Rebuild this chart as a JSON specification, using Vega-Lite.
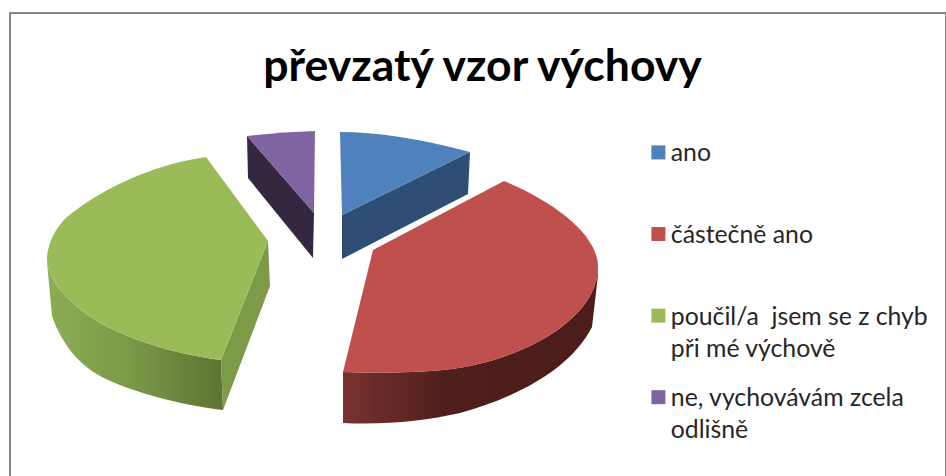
{
  "$schema": "https://vega.github.io/schema/vega-lite/v6.json",
  "width": 936,
  "height": 465,
  "autosize": "none",
  "padding": {"left": 10, "top": 13, "right": 0, "bottom": -2},
  "background": "white",
  "view": {"stroke": "#868686", "strokeWidth": 2, "fill": "white"},
  "title": {
    "text": "převzatý vzor výchovy",
    "font": "Lato",
    "fontSize": 44.5,
    "fontWeight": "bold",
    "color": "#000000",
    "anchor": "middle",
    "frame": "group",
    "orient": "top",
    "offset": -77,
    "dx": 4.5
  },
  "data": {
    "values": [
      {"poradi": "1", "odpoved": "ano", "podil": 12},
      {"poradi": "2", "odpoved": "částečně ano", "podil": 41},
      {"poradi": "3", "odpoved": "poučil/a  jsem se z chyb při mé výchově", "podil": 41},
      {"poradi": "4", "odpoved": "ne, vychovávám zcela odlišně", "podil": 6}
    ]
  },
  "encoding": {
    "x": {"datum": 0, "type": "quantitative", "scale": {"domain": [-465, 471]}, "axis": null},
    "y": {"datum": 0, "type": "quantitative", "scale": {"domain": [-233, 232]}, "axis": null},
    "tooltip": {"field": "podil", "type": "quantitative"}
  },
  "layer": [
    {
      "transform": [{"filter": "datum.poradi === '1'"}],
      "mark": {"type": "point", "filled": true, "opacity": 1, "size": 4, "fill": "#2f4e75", "stroke": null},
      "encoding": {"shape": {"value": "M-5,-93 L-7,-51 L-133,14 L-133,-30 Z"}}
    },
    {
      "transform": [{"filter": "datum.poradi === '4'"}],
      "mark": {"type": "point", "filled": true, "opacity": 1, "size": 4, "fill": "#35273f", "stroke": null},
      "encoding": {"shape": {"value": "M-228,-109 L-227,-67 L-162,13 L-161,-32 Z"}}
    },
    {
      "transform": [{"filter": "datum.poradi === '2'"}],
      "mark": {
        "type": "point", "filled": true, "opacity": 1, "size": 4, "stroke": null,
        "fill": {"gradient": "linear", "x1": 0, "x2": 1, "y1": 0, "y2": 0, "stops": [
          {"offset": 0, "color": "#78322f"},
          {"offset": 0.4, "color": "#4f1f1c"},
          {"offset": 1, "color": "#4a1c1a"}
        ]}
      },
      "encoding": {"shape": {"value": "M-132,127 L-132,178 C-90,180 -50,176 -15,168 C40,153 95,125 117,82 L123,30 L123,22 C123,75 45,117 -32,125 C-65,128 -100,128 -132,127 Z"}}
    },
    {
      "transform": [{"filter": "datum.poradi === '3'"}],
      "mark": {
        "type": "point", "filled": true, "opacity": 1, "size": 4, "stroke": null,
        "fill": {"gradient": "linear", "x1": 0, "x2": 1, "y1": 0, "y2": 0, "stops": [
          {"offset": 0, "color": "#8cad54"},
          {"offset": 0.45, "color": "#7c9a48"},
          {"offset": 1, "color": "#5e7332"}
        ]}
      },
      "encoding": {"shape": {"value": "M-428,17 L-423,71 C-413,100 -395,120 -375,131 C-347,146 -295,160 -252,165 L-254,115 C-295,110 -340,97 -375,78 C-405,60 -428,35 -428,14 Z"}}
    },
    {
      "transform": [{"filter": "datum.poradi === '3'"}],
      "mark": {"type": "point", "filled": true, "opacity": 1, "size": 4, "fill": "#7c9a48", "stroke": null},
      "encoding": {"shape": {"value": "M-254,115 L-252,165 L-205,41 L-207,-4 Z"}}
    },
    {
      "mark": {"type": "point", "filled": true, "opacity": 1, "size": 4, "stroke": null},
      "encoding": {
        "shape": {
          "field": "poradi",
          "type": "nominal",
          "scale": {
            "domain": ["1", "2", "3", "4"],
            "range": [
              "M-135,-113 Q-80,-113 -5,-93 L-133,-30 Z",
              "M29,-64 C80,-43 123,-10 123,22 C123,75 45,117 -32,125 C-65,128 -100,128 -132,127 L-102,5 Z",
              "M-269,-88 C-325,-80 -375,-55 -408,-28 C-420,-17 -428,0 -428,14 C-428,35 -405,60 -375,78 C-340,97 -295,110 -254,115 L-207,-4 Z",
              "M-228,-109 Q-195,-113 -160,-114 L-161,-32 Z"
            ]
          },
          "legend": null
        },
        "color": {
          "field": "odpoved",
          "type": "nominal",
          "sort": null,
          "scale": {
            "domain": ["ano", "částečně ano", "poučil/a  jsem se z chyb při mé výchově", "ne, vychovávám zcela odlišně"],
            "range": ["#4f81bd", "#c0504d", "#9bbb59", "#8064a2"]
          },
          "legend": {
            "orient": "none",
            "legendX": 636,
            "legendY": 127,
            "columns": 1,
            "title": null,
            "symbolType": "square",
            "symbolSize": 196,
            "symbolStrokeWidth": 0,
            "symbolOpacity": 1,
            "labelFont": "Lato",
            "labelFontSize": 24.8,
            "labelColor": "#262626",
            "labelLimit": 300,
            "labelBaseline": "top",
            "labelOffset": 0,
            "rowPadding": 22.6,
            "gridAlign": "all",
            "labelExpr": "datum.label === 'poučil/a  jsem se z chyb při mé výchově' ? ['poučil/a\u00a0 jsem se z chyb', 'při mé výchově'] : datum.label === 'ne, vychovávám zcela odlišně' ? ['ne, vychovávám zcela', 'odlišně'] : datum.label",
            "encoding": {"labels": {"dy": {"value": -11}, "lineHeight": {"value": 32}}}
          }
        }
      }
    }
  ]
}
